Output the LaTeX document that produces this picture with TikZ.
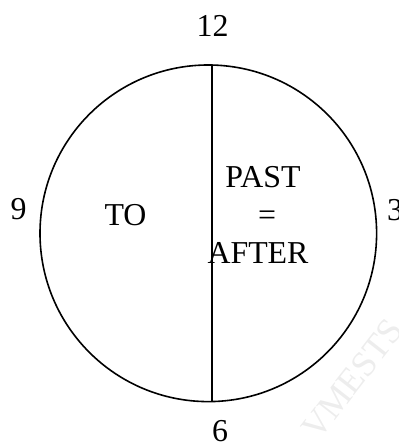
\documentclass[tikz,border=0pt]{standalone}
\usepackage{fontspec}
\setmainfont{Liberation Serif}
\begin{document}
\begin{tikzpicture}[x=1bp,y=-1bp,
  lbl/.style={anchor=base,inner sep=0pt,font=\fontsize{32}{37.5}\selectfont},
  stroke/.style={line width=1.6bp,black}]
\useasboundingbox (0,0) rectangle (398,443);
\clip (0,0) rectangle (398,443);
% watermark
\node[rotate=52,text=black!7,font=\fontsize{36}{36}\selectfont,anchor=base west,inner sep=0pt] (wm) at (318,442) {VMESTS};
% clock face
\node[draw,circle,stroke,minimum size=336.6bp,inner sep=0pt] (clock) at (208.3,233.3) {};
\coordinate (top) at (212,65.1);
\coordinate (bot) at (212,401.5);
\draw[stroke] (top) -- (bot);
% labels
\node[lbl] (n12) at (212.5,36.5) {12};
\node[lbl] (n9) at (18.5,220) {9};
\node[lbl] (n3) at (395,221) {3};
\node[lbl] (n6) at (220,441) {6};
\node[lbl] (to) at (125.5,225) {TO};
\node[lbl] (past) at (263,188) {PAST};
\node[lbl] (eq) at (267,225.5) {=};
\node[lbl] (after) at (258,263) {AFTER};
\end{tikzpicture}
\end{document}
